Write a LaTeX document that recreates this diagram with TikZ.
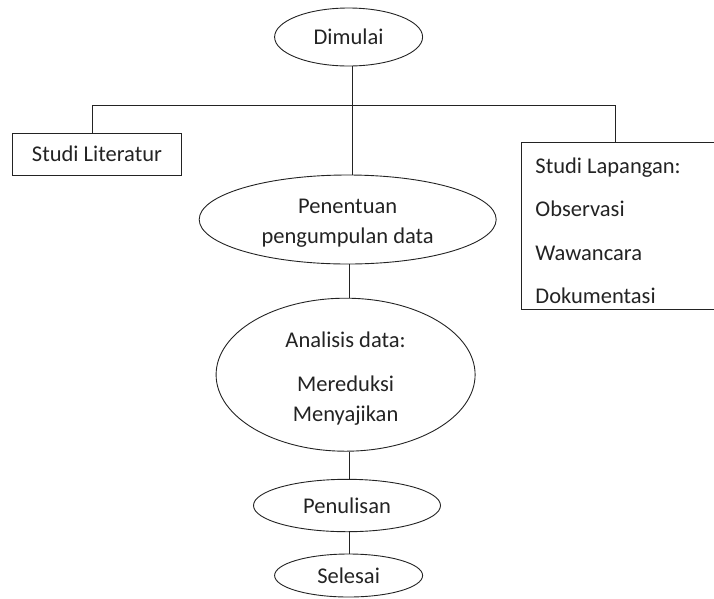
\documentclass[tikz,border=0pt]{standalone}
\usepackage{fontspec}
\setmainfont{Carlito}
\usetikzlibrary{shapes.geometric}
\definecolor{ink}{RGB}{35,35,35}
\newcommand{\topgap}[2]{\raisebox{0pt}[\dimexpr\height+#1\relax][\depth]{#2}}
\begin{document}
\begin{tikzpicture}[x=1pt,y=1pt,
  every node/.style={font=\fontsize{22.5}{30}\selectfont, text=ink},
  oval/.style={draw=ink, line width=0.9pt, ellipse, inner sep=0pt, align=center},
  boxn/.style={draw=ink, line width=0.9pt, rectangle, inner sep=0pt},
  conn/.style={draw=ink, line width=0.9pt}]
\useasboundingbox (0,0) rectangle (714,-598);
\node[oval, minimum width=148, minimum height=58] (dim) at (348.6,-37) {Dimulai};
\node[boxn, minimum width=168.5, minimum height=42] (lit) at (97,-154) {Studi Literatur};
\node[oval, minimum width=297, minimum height=89] (pen) at (347.7,-219.5)
      {\topgap{7pt}{Penentuan}\\pengumpulan data};
\node[boxn, minimum width=196, minimum height=167.6, anchor=north west, align=flush left,
      text width=167, font=\fontsize{22.5}{43.3}\selectfont] (lap) at (520.5,-141.7)
      {\topgap{9.6pt}{Studi Lapangan:}\\Observasi\\Wawancara\\Dokumentasi};
\node[oval, minimum width=259, minimum height=153] (ana) at (345.6,-374.7)
      {\topgap{8pt}{Analisis data:}\\[13.5pt]Mereduksi\\Menyajikan};
\node[oval, minimum width=187, minimum height=52.4] (tul) at (347,-505.5) {Penulisan};
\node[oval, minimum width=148, minimum height=43] (sel) at (348.6,-575.5) {Selesai};
\coordinate (j) at (352.5,-105);
\coordinate (jl) at (92.4,-105);
\coordinate (jr) at (615.6,-105);
\coordinate (k) at (349.2,-300);
\draw[conn] (j |- dim.south) -- (j) -- (j |- pen.north);
\draw[conn] (lit.north -| jl) -- (jl) -- (jr) -- (lap.north -| jr);
\draw[conn] (k |- pen.south) -- (k |- ana.north);
\draw[conn] (k |- ana.south) -- (k |- tul.north);
\draw[conn] (k |- tul.south) -- (k |- sel.north);
\end{tikzpicture}
\end{document}
